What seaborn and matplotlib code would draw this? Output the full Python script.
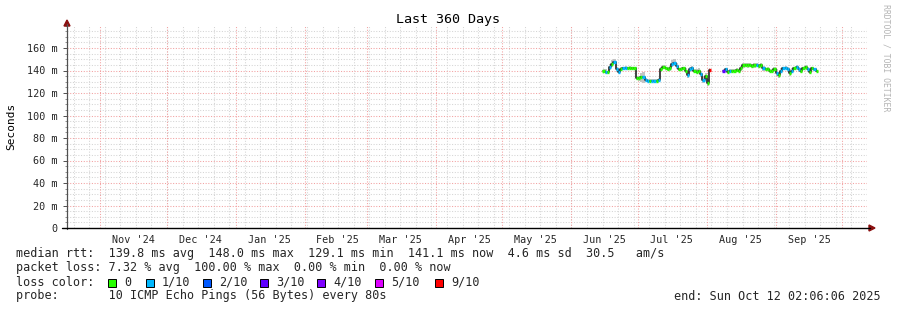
import matplotlib
matplotlib.use("Agg")
import numpy as np
import pandas as pd
import seaborn as sns
import matplotlib.pyplot as plt
from matplotlib.patches import Rectangle, Polygon
from matplotlib.lines import Line2D

# ---------------- data ----------------
title = "Last 360 Days"
y_label = "Seconds"
start_time = "2024-10-17 02:06:06"
end_time = "2025-10-12 02:06:06"

month_labels = ["Nov '24", "Dec '24", "Jan '25", "Feb '25", "Mar '25", "Apr '25",
                "May '25", "Jun '25", "Jul '25", "Aug '25", "Sep '25"]
month_starts = ["2024-11-01", "2024-12-01", "2025-01-01", "2025-02-01", "2025-03-01",
                "2025-04-01", "2025-05-01", "2025-06-01", "2025-07-01", "2025-08-01",
                "2025-09-01", "2025-10-01"]

y_ticks = [0, 20, 40, 60, 80, 100, 120, 140, 160]
y_tick_labels = ["0", "20 m", "40 m", "60 m", "80 m", "100 m", "120 m", "140 m", "160 m"]

# segment 1: 2025-06-15 .. 2025-08-02 (daily), median rtt in ms
seg1_start = "2025-06-15"
seg1_ms = [140.0, 139.0, 138.5, 143.0, 146.0, 148.0, 141.0, 139.0, 141.5, 142.0,
           142.5, 142.0, 142.5, 142.0, 142.0, 133.5, 133.0, 134.0, 134.0, 131.5,
           131.0, 131.0, 131.0, 131.0, 131.0, 131.5, 141.0, 143.0, 142.0, 141.0,
           142.0, 146.0, 147.0, 144.0, 141.0, 141.0, 142.0, 140.0, 136.0, 141.0,
           142.0, 140.0, 139.0, 140.0, 137.0, 132.0, 135.0, 129.1, 140.5]
seg1_loss = [0, 1, 0, 1, 0, 1, 1, 1, 0, 1,
             1, 0, 0, 0, 0, 0, 0, 0, 1, 1,
             1, 0, 1, 1, 0, 1, 0, 0, 0, 0,
             0, 1, 1, 1, 0, 0, 0, 0, 1, 1,
             1, 0, 0, 0, 1, 1, 0, 0, 9]
seg1_smoke = [1.5, 2.0, 1.5, 2.5, 3.0, 2.5, 2.0, 2.0, 1.5, 1.5,
              1.5, 1.5, 1.5, 1.5, 1.5, 2.0, 2.0, 4.0, 5.0, 1.5,
              1.5, 1.5, 1.5, 1.5, 1.5, 1.5, 2.0, 2.0, 1.5, 1.5,
              2.0, 3.0, 3.0, 2.5, 1.5, 1.5, 1.5, 2.0, 3.0, 2.0,
              2.0, 1.5, 2.0, 2.0, 3.0, 3.0, 2.5, 3.0, 1.5]

# segment 2: 2025-08-08 .. 2025-09-19 (daily)
seg2_start = "2025-08-08"
seg2_ms = [139.5, 141.0, 139.0, 140.0, 139.5, 140.0, 140.5, 140.0, 142.0, 144.5,
           145.0, 144.5, 145.0, 144.0, 144.5, 145.0, 144.0, 145.0, 142.0, 141.0,
           141.5, 140.0, 139.5, 141.0, 138.0, 136.0, 140.0, 142.0, 142.5, 141.0,
           138.0, 140.0, 142.0, 143.0, 141.0, 140.0, 142.0, 143.0, 141.0, 139.0,
           142.0, 141.0, 140.0]
seg2_loss = [3, 1, 0, 1, 0, 0, 0, 0, 0, 0,
             0, 0, 0, 0, 0, 1, 0, 0, 1, 0,
             0, 0, 0, 0, 1, 0, 1, 1, 1, 1,
             0, 1, 0, 1, 1, 0, 0, 0, 1, 0,
             0, 1, 0]
seg2_smoke = [1.5, 1.5, 1.5, 1.5, 1.5, 1.5, 1.5, 1.5, 2.0, 2.0,
              2.0, 2.0, 2.0, 2.0, 2.0, 2.0, 2.0, 2.0, 2.0, 1.5,
              1.5, 1.5, 1.5, 2.0, 3.0, 3.0, 2.0, 1.5, 1.5, 2.0,
              3.0, 2.0, 1.5, 1.5, 2.0, 2.0, 1.5, 1.5, 2.0, 2.0,
              1.5, 1.5, 1.5]

loss_levels = [0, 1, 2, 3, 4, 5, 9]
loss_names = ["0", "1/10", "2/10", "3/10", "4/10", "5/10", "9/10"]
loss_colors = ["#26ff00", "#00b8ff", "#0059ff", "#5e00ff", "#7e00ff", "#dd00ff", "#ff0000"]

stats_line = "median rtt:  139.8 ms avg  148.0 ms max  129.1 ms min  141.1 ms now  4.6 ms sd  30.5   am/s"
loss_line = "packet loss: 7.32 % avg  100.00 % max  0.00 % min  0.00 % now"
probe_line = "probe:       10 ICMP Echo Pings (56 Bytes) every 80s"
end_line = "end: Sun Oct 12 02:06:06 2025"
watermark = "RRDTOOL / TOBI OETIKER"

# ---------------- build frame ----------------
def seg_frame(start, ms, loss, smoke, sid):
    d = pd.date_range(start, periods=len(ms), freq="D") + pd.Timedelta(hours=12)
    return pd.DataFrame({"date": d, "ms": ms, "loss": loss, "smoke": smoke, "seg": sid})

df = pd.concat([seg_frame(seg1_start, seg1_ms, seg1_loss, seg1_smoke, 1),
                seg_frame(seg2_start, seg2_ms, seg2_loss, seg2_smoke, 2)], ignore_index=True)
color_map = dict(zip(loss_levels, loss_colors))

# ---------------- figure ----------------
sns.set_theme(style="white")
plt.rcParams["font.family"] = ["DejaVu Sans Mono", "DejaVu Sans"]

W, H = 897, 310
fig = plt.figure(figsize=(W / 100, H / 100), dpi=100)
fig.patch.set_facecolor("white")

def fx(x):
    return x / W

def fy(y):
    return 1 - y / H

Y0, Y1 = 228, 25.5
ax = fig.add_axes([fx(67), fy(Y0), 800 / W, (Y0 - Y1) / H])
ax.set_facecolor("white")
t0, t1 = pd.Timestamp(start_time), pd.Timestamp(end_time)
ax.set_xlim(t0, t1)
ax.set_ylim(0, 180)
for s in ax.spines.values():
    s.set_visible(False)
ax.grid(False)

dot = (0, (1, 1.6))
# minor grid
for v in np.arange(5, 180, 5):
    if v % 20 != 0:
        ax.axhline(v, color="#d4d4d4", lw=0.75, ls=dot, zorder=0)
for d in pd.date_range(t0, t1, freq="W-SUN"):
    ax.axvline(d, color="#d4d4d4", lw=0.75, ls=dot, zorder=0)
# major grid
for v in y_ticks[1:]:
    ax.axhline(v, color="#f2a0a0", lw=0.75, ls=dot, zorder=0.5)
for m in month_starts:
    ax.axvline(pd.Timestamp(m), color="#f2a0a0", lw=0.75, ls=dot, zorder=0.5)

# smoke
for sid, g in df.groupby("seg"):
    ax.fill_between(g["date"], g["ms"] - g["smoke"], g["ms"] + g["smoke"],
                    step="mid", color="#c4c4c4", lw=0, zorder=1)

# median step line (black connections)
sns.lineplot(data=df, x="date", y="ms", units="seg", estimator=None, color="#101010",
             lw=1.1, drawstyle="steps-mid", legend=False, ax=ax, zorder=2)

# colored median by loss
half = pd.Timedelta(hours=12)
ax.hlines(df["ms"], df["date"] - half, df["date"] + half,
          colors=[color_map[l] for l in df["loss"]], lw=2.4, zorder=3)

ax.set_xlabel("")
ax.set_ylabel("")

# ticks
ax.set_yticks(y_ticks)
ax.set_yticklabels(y_tick_labels)
ax.set_yticks(np.arange(0, 181, 5), minor=True)
ax.tick_params(axis="y", which="major", length=3, width=0.7, color="#505050",
               pad=4, labelsize=7.3, left=True)
ax.tick_params(axis="y", which="minor", length=1.5, width=0.6, color="#808080", left=True)
mids = [pd.Timestamp(m) + pd.Timedelta(days=15) for m in month_starts[:-1]]
ax.set_xticks(mids)
ax.set_xticklabels(month_labels)
ax.set_xticks([], minor=True)
ax.tick_params(axis="x", which="major", length=0, pad=5, labelsize=7.3)

# axes lines and arrows
fig.add_artist(Line2D([fx(67), fx(67)], [fy(229), fy(24)], color="#505050", lw=0.9))
fig.add_artist(Line2D([fx(62), fx(870)], [fy(228), fy(228)], color="#000000", lw=1.0))
fig.add_artist(Polygon([(fx(64), fy(26)), (fx(70), fy(26)), (fx(67), fy(20))],
                       closed=True, color="#8b1010", transform=fig.transFigure))
fig.add_artist(Polygon([(fx(869), fy(225)), (fx(869), fy(231)), (fx(875), fy(228))],
                       closed=True, color="#8b1010", transform=fig.transFigure))

# titles
fig.text(fx(448), fy(19), title, ha="center", va="center", fontsize=9.6, color="black")
fig.text(fx(11), fy(126), y_label, ha="center", va="center", rotation=90, fontsize=8, color="black")
fig.text(fx(886), fy(4), watermark, ha="center", va="top", rotation=-90, fontsize=5.85,
         color="#b4b4b4")

# legend block
fs = 8.5
fig.text(fx(16), fy(254), stats_line, ha="left", va="center", fontsize=fs)
fig.text(fx(16), fy(268), loss_line, ha="left", va="center", fontsize=fs)
fig.text(fx(16), fy(282), "loss color:", ha="left", va="center", fontsize=fs)
box_x = [108, 146, 203, 260, 317, 375, 435]
for bx, name, col in zip(box_x, loss_names, loss_colors):
    fig.add_artist(Rectangle((fx(bx), fy(286.5)), 8 / W, 8 / H, transform=fig.transFigure,
                             facecolor=col, edgecolor="black", lw=0.7))
    fig.text(fx(bx + 16), fy(282), name, ha="left", va="center", fontsize=fs)
fig.text(fx(16), fy(296), probe_line, ha="left", va="center", fontsize=fs)
fig.text(fx(881), fy(296), end_line, ha="right", va="center", fontsize=fs)

fig.savefig("out.png", dpi=100, facecolor="white")
